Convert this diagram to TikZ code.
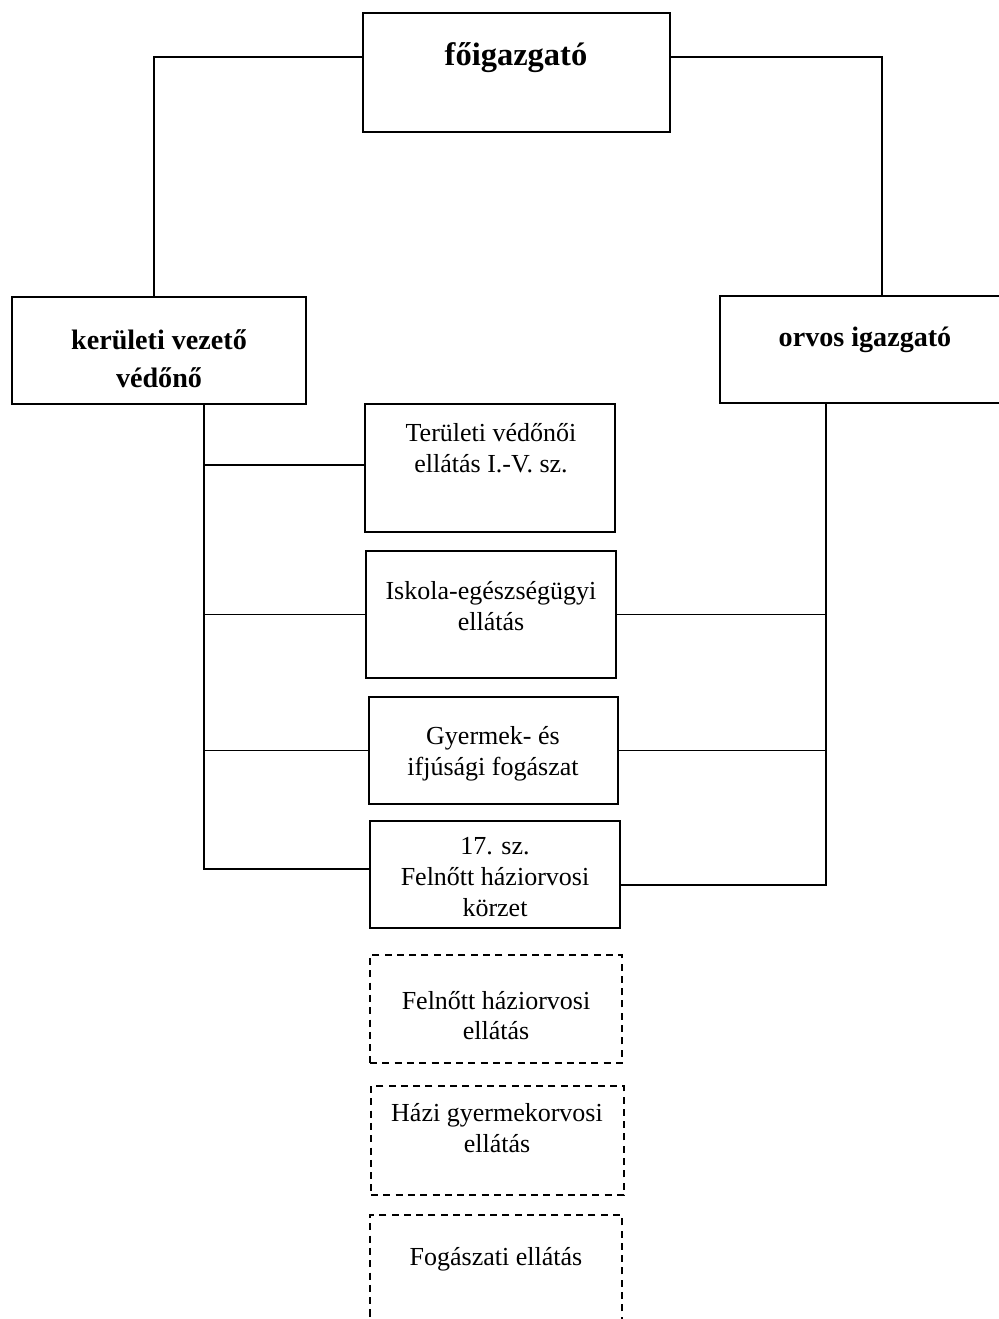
\documentclass[tikz,border=0pt]{standalone}
\usepackage{fontspec}
\setmainfont{Liberation Serif}
\usetikzlibrary{positioning}

\begin{document}
\begin{tikzpicture}[x=0.02cm, y=-0.02cm, line width=0.8pt,
    box/.style={draw, inner sep=0pt},
    dbox/.style={box, dash pattern=on 4pt off 3pt},
    txt/.style={align=center, font=\fontsize{14.8}{17.5}\selectfont},
    btxt/.style={align=center, font=\bfseries\fontsize{16}{21.5}\selectfont}]
    \useasboundingbox (0,0) rectangle (999,1319);
    \clip (0,0) rectangle (999,1319);

    \node[box, minimum width=6.14cm, minimum height=2.38cm] (fo) at (516.5,72.5) {};
    \node[box, minimum width=5.88cm, minimum height=2.14cm] (kv) at (159,350.5) {};
    \node[box, minimum width=5.8cm, minimum height=2.14cm] (oi) at (865,349.5) {};

    \node[box, minimum width=5.0cm, minimum height=2.56cm] (t1) at (490,468) {};
    \node[box, minimum width=5.0cm, minimum height=2.54cm] (t2) at (491,614.5) {};
    \node[box, minimum width=4.98cm, minimum height=2.14cm] (t3) at (493.5,750.5) {};
    \node[box, minimum width=5.0cm, minimum height=2.14cm] (t4) at (495,874.5) {};

    \node[dbox, minimum width=5.04cm, minimum height=2.16cm] (d1) at (496,1009) {};
    \node[dbox, minimum width=5.06cm, minimum height=2.18cm] (d2) at (497.5,1140.5) {};
    \node[dbox, minimum width=5.04cm, minimum height=2.3cm] (d3) at (496,1272.5) {};

    \node[btxt, font=\bfseries\fontsize{18.5}{22}\selectfont] (fotxt) at (516,58) {főigazgató};
    \node[btxt] (kvtxt) at (159,359) {kerületi vezető\\védőnő};
    \node[btxt] (oitxt) at (865,340) {orvos igazgató};
    \node[txt] (t1txt) at (491,448) {Területi védőnői\\ellátás I.-V. sz.};
    \node[txt] (t2txt) at (491,606) {Iskola-egészségügyi\\ellátás};
    \node[txt] (t3txt) at (493,754) {Gyermek- és\\ifjúsági fogászat};
    \node[txt] (t4txt) at (495,877) {17. sz.\\Felnőtt háziorvosi\\körzet};
    \node[txt] (d1txt) at (496,1015.5) {Felnőtt háziorvosi\\ellátás};
    \node[txt] (d2txt) at (497,1128) {Házi gyermekorvosi\\ellátás};
    \node[txt] (d3txt) at (496,1259) {Fogászati ellátás};

    \coordinate (lbus) at (204,0);
    \coordinate (rbus) at (826,0);

    \draw ([yshift=0.31cm]fo.west) -| ([xshift=-0.1cm]kv.north);
    \draw ([yshift=0.31cm]fo.east) -| ([xshift=0.34cm]oi.north);

    \draw (kv.south -| lbus) |- ([yshift=0.11cm]t4.west);
    \draw ([yshift=0.06cm]t1.west -| lbus) -- ([yshift=0.06cm]t1.west);
    \draw (t2.west -| lbus) -- (t2.west);
    \draw (t3.west -| lbus) -- (t3.west);

    \draw (oi.south -| rbus) |- ([yshift=-0.21cm]t4.east);
    \draw (t2.east) -- (t2.east -| rbus);
    \draw (t3.east) -- (t3.east -| rbus);
\end{tikzpicture}
\end{document}
